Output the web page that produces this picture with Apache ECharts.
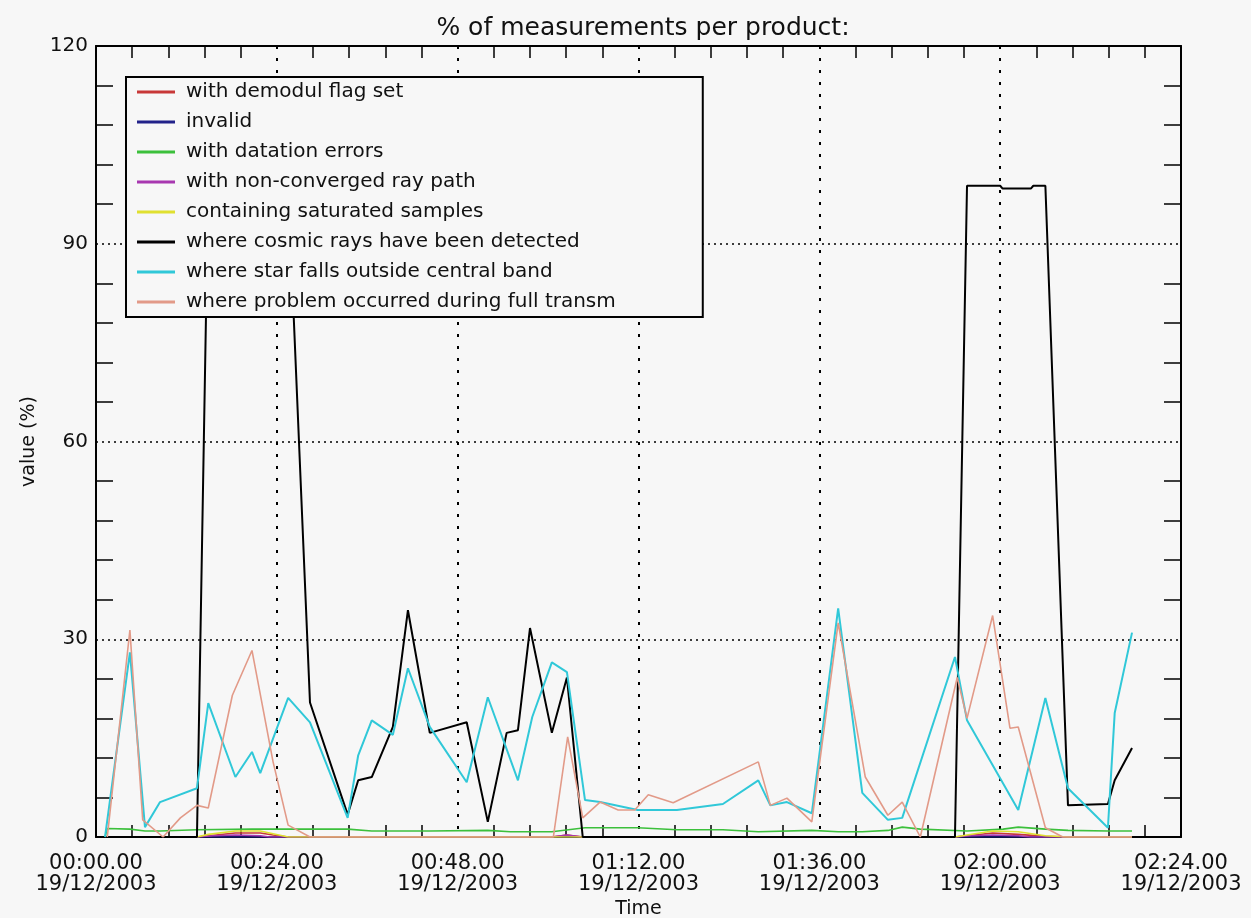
<!DOCTYPE html>
<html>
<head>
<meta charset="utf-8">
<script src="https://cdn.jsdelivr.net/npm/echarts@6/dist/echarts.min.js"></script>
<style>
html,body{margin:0;padding:0;background:#f7f7f7;}
#c{width:1251px;height:918px;}
</style>
</head>
<body>
<div id="c"></div>
<script>
// ---- tick labels ----
const tickTimes = ['00:00.00','00:24.00','00:48.00','01:12.00','01:36.00','02:00.00','02:24.00'];
const tickDate = '19/12/2003';

// ---- series (time in minutes since 00:00, value in %) ----
const demodulT = [1.2,13.4,14.9,18.5,21.8,23.5,25.5,60.5,62.5,64.6,114.0,115.6,119.0,122.4,126.0,129.0,137.5];
const demodulV = [0,0,0.2,0.6,0.6,0.3,0,0,0.3,0,0,0.2,0.6,0.4,0.1,0,0];

const invalidT = [1.2,137.5];
const invalidV = [0,0];

const datationT = [1.2,1.5,4.5,6.5,8.5,13.4,20.7,28.4,33.4,36.6,44.3,52.0,55.0,60.5,64.9,71.9,77.1,83.2,87.9,95.0,98.5,101.7,105.1,107.0,109.4,115.6,120.4,122.4,126.0,129.0,134.3,137.5];
const datationV = [0,1.3,1.2,0.9,0.9,1.1,1.2,1.2,1.2,0.9,0.9,1.0,0.8,0.8,1.4,1.4,1.1,1.1,0.8,1.0,0.8,0.8,1.0,1.5,1.2,0.9,1.2,1.5,1.2,1.0,0.9,0.9];

const nonConvT = [1.2,13.4,15.5,18.5,21.8,23.0,60.5,62.5,64.6,114.0,116.0,119.0,122.4,124.0,137.5];
const nonConvV = [0,0,0.2,0.3,0.2,0,0,0.3,0,0,0.2,0.3,0.2,0,0];

const saturT = [1.2,13.4,14.9,18.5,21.8,23.5,25.5,114.0,115.6,119.0,122.4,126.0,129.0,137.5];
const saturV = [0,0,0.4,0.9,0.9,0.5,0,0,0.3,0.9,0.8,0.2,0,0];

const cosmicT = [1.2,13.4,14.9,25.5,28.4,33.4,34.8,36.6,39.4,41.4,44.3,49.2,52.0,54.5,56.0,57.6,60.5,62.5,64.6,114.0,115.6,120.0,120.3,124.1,124.4,126.0,129.0,134.3,135.2,137.5];
const cosmicV = [0,0,99,99,20.4,3.4,8.6,9.1,16.7,34.4,15.8,17.4,2.3,15.8,16.2,31.7,15.8,24.2,0,0,98.8,98.8,98.4,98.4,98.8,98.8,4.8,5.0,8.6,13.5];

const starT = [1.2,4.5,6.5,8.5,13.4,14.9,18.5,20.7,21.8,25.5,28.4,33.4,34.8,36.6,39.4,41.4,44.3,49.2,52.0,56.0,57.9,60.5,62.5,64.9,66.9,71.9,77.1,83.2,87.9,89.5,91.7,95.0,98.5,101.7,105.1,107.0,114.0,115.6,122.4,126.0,129.0,134.3,135.2,137.5];
const starV = [0,28,1.5,5.3,7.4,20.3,9.1,12.9,9.7,21.1,17.4,2.9,12.4,17.7,15.5,25.6,16.7,8.3,21.2,8.6,18.2,26.5,25.0,5.6,5.3,4.1,4.1,5.0,8.6,4.8,5.3,3.6,34.7,6.7,2.6,2.9,27.3,17.7,4.1,21.1,7.4,1.4,18.8,31.0];

const transmT = [1.5,4.5,6.2,8.9,11.2,13.4,14.9,18.1,20.7,23.5,25.5,28.4,60.7,62.6,64.6,66.9,69.3,71.5,73.3,76.6,87.9,89.5,91.7,95.0,98.5,102.1,105.1,107.0,109.4,114.3,115.6,119.0,121.3,122.4,126.0,128.3,137.5];
const transmV = [0,31.4,2.6,0,2.9,4.8,4.4,21.5,28.3,11.4,1.8,0,0,15.2,2.9,5.3,4.1,4.1,6.4,5.2,11.4,4.8,5.9,2.3,32.5,9.1,3.3,5.3,0,24.2,18.0,33.6,16.5,16.7,1.4,0,0];

const seriesDefs = [
  {name:'with demodul flag set', t:demodulT, v:demodulV, color:'#c83838', w:1.6},
  {name:'invalid', t:invalidT, v:invalidV, color:'#22228a', w:1.6},
  {name:'with datation errors', t:datationT, v:datationV, color:'#3cc03c', w:1.6},
  {name:'with non-converged ray path', t:nonConvT, v:nonConvV, color:'#a838b0', w:1.6},
  {name:'containing saturated samples', t:saturT, v:saturV, color:'#e0e030', w:1.6},
  {name:'where cosmic rays have been detected', t:cosmicT, v:cosmicV, color:'#000000', w:2},
  {name:'where star falls outside central band', t:starT, v:starV, color:'#30c8d8', w:2},
  {name:'where problem occurred during full transm', t:transmT, v:transmV, color:'#e29a88', w:1.6}
];

const FONT = 'DejaVu Sans';
const BG = '#f7f7f7';
const chart = echarts.init(document.getElementById('c'), null, {renderer:'canvas'});

const minorX = {show:true, splitNumber:5, length:12, lineStyle:{color:'#000', width:1.5}};
const minorY = {show:true, splitNumber:5, length:17, lineStyle:{color:'#000', width:1.5}};

chart.setOption({
  animation:false,
  backgroundColor:BG,
  title:{
    text:'% of measurements per product:',
    left:638, top:11, textAlign:'center',
    textStyle:{fontFamily:FONT, fontSize:25, fontWeight:'normal', color:'#111'}
  },
  grid:{left:96, right:70, top:46, bottom:81, containLabel:false, outerBoundsMode:'none'},
  legend:{
    orient:'vertical', left:126, top:77, padding:[5,87,5,11],
    backgroundColor:BG, borderColor:'#000', borderWidth:2,
    itemWidth:38, itemHeight:3, itemGap:10, icon:'rect',
    textStyle:{fontFamily:FONT, fontSize:20, lineHeight:18, color:'#111', padding:[0,0,0,6]},
    selectedMode:false,
    data: seriesDefs.map(s=>s.name)
  },
  xAxis:[{
    type:'value', min:0, max:144, interval:24, position:'bottom',
    name:'Time', nameLocation:'middle', nameGap:62,
    nameTextStyle:{fontFamily:FONT, fontSize:19, color:'#111'},
    axisLine:{show:true, lineStyle:{color:'#000', width:2}},
    axisTick:{show:false, inside:true},
    minorTick:minorX,
    axisLabel:{
      margin:16, fontFamily:FONT, fontSize:21, lineHeight:21, color:'#111',
      formatter:(v)=>{ const i=Math.round(v/24); return tickTimes[i]+'\n'+tickDate; }
    },
    splitLine:{show:true, lineStyle:{color:'#000', width:2, type:[3,9]}}
  },{
    type:'value', min:0, max:144, interval:24, position:'top',
    axisLine:{show:true, onZero:false, lineStyle:{color:'#000', width:2}},
    axisTick:{show:false, inside:true},
    minorTick:minorX,
    axisLabel:{show:false},
    splitLine:{show:false}
  }],
  yAxis:[{
    type:'value', min:0, max:120, interval:30, position:'left',
    name:'value (%)', nameLocation:'middle', nameGap:50,
    nameTextStyle:{fontFamily:FONT, fontSize:19, color:'#111'},
    axisLine:{show:true, lineStyle:{color:'#000', width:2}},
    axisTick:{show:false, inside:true},
    minorTick:minorY,
    axisLabel:{margin:8, fontFamily:FONT, fontSize:20, color:'#111'},
    splitLine:{show:true, lineStyle:{color:'#000', width:1.5, type:[2,4]}}
  },{
    type:'value', min:0, max:120, interval:30, position:'right',
    axisLine:{show:true, onZero:false, lineStyle:{color:'#000', width:2}},
    axisTick:{show:false, inside:true},
    minorTick:minorY,
    axisLabel:{show:false},
    splitLine:{show:false}
  }],
  series: seriesDefs.map(s=>({
    name:s.name, type:'line', xAxisIndex:0, yAxisIndex:0,
    showSymbol:false, symbol:'none', clip:true,
    color:s.color,
    itemStyle:{color:s.color},
    lineStyle:{color:s.color, width:s.w},
    emphasis:{disabled:true},
    data: s.t.map((t,i)=>[t, s.v[i]])
  }))
});
</script>
</body>
</html>
